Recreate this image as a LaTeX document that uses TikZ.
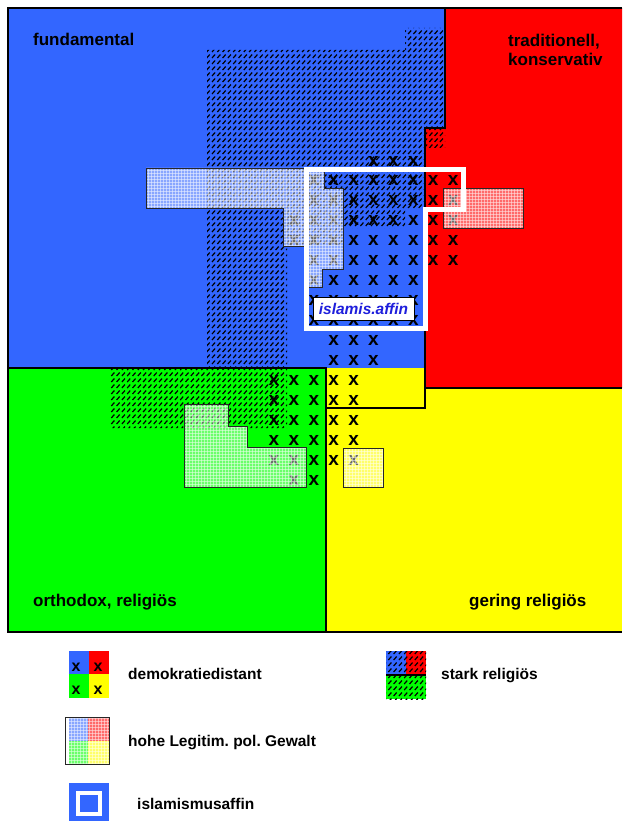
\documentclass[tikz,border=0pt]{standalone}
\usepackage{fontspec}
\setmainfont{Liberation Sans}
\usetikzlibrary{patterns}
\frenchspacing
\definecolor{cblue}{RGB}{51,102,255}
\definecolor{cred}{RGB}{255,0,0}
\definecolor{cgreen}{RGB}{0,255,0}
\definecolor{cyellow}{RGB}{255,255,0}
\definecolor{labelblue}{RGB}{30,30,220}

\pgfdeclarepatternformonly{fgrid}{\pgfpoint{0pt}{0pt}}{\pgfpoint{3.4pt}{3.4pt}}{\pgfpoint{3.4pt}{3.4pt}}{%
  \pgfsetlinewidth{0.7pt}%
  \pgfpathmoveto{\pgfpoint{0pt}{0.35pt}}\pgfpathlineto{\pgfpoint{3.4pt}{0.35pt}}%
  \pgfpathmoveto{\pgfpoint{0.35pt}{0pt}}\pgfpathlineto{\pgfpoint{0.35pt}{3.4pt}}%
  \pgfusepathqstroke}

\newcommand\ovlshape[1]{%
  \fill[white,fill opacity=0.42] #1;
  \fill[pattern=fgrid,pattern color=white,fill opacity=0.75] #1;}

% dashed diagonal hatch: #1 clip path, #2 first x, #3 bottom y, #4 number of lines
\newcommand\hatchin[4]{%
  \begin{scope}
    \clip #1;
    \foreach \k in {0,...,#4}
      \draw[hatchline] ({#2+5.3*\k},#3) -- ++(371,-420);
  \end{scope}}

\tikzset{
  frameline/.style={line width=2.2pt,black},
  hatchline/.style={black,line width=1.2pt,dash pattern=on 4.6pt off 3.406pt},
  ovlborder/.style={draw=black!85,line width=0.9pt},
  xmark/.style={font=\bfseries\fontsize{19}{19}\selectfont,inner sep=0pt},
  legx/.style={font=\bfseries\fontsize{16}{16}\selectfont,inner sep=0pt},
  biglabel/.style={font=\bfseries\fontsize{17}{19}\selectfont,inner sep=0pt,anchor=base west,align=left},
  leglabel/.style={font=\bfseries\fontsize{15.5}{17}\selectfont,inner sep=0pt,anchor=base west},
  whiteframe/.style={draw=white,line width=5pt},
}

\begin{document}
\begin{tikzpicture}[x=1pt,y=-1pt]
\useasboundingbox (0,0) rectangle (622,821);
\fill[white] (0,0) rectangle (622,821);

% regions
\fill[cblue] (8,8) rectangle (445,368);
\fill[cyellow] (326,368) rectangle (622,632);
\fill[cgreen] (8,368) rectangle (326,632);
\fill[cred] (445,8) -- (622,8) -- (622,388) -- (425,388) -- (425,128) -- (445,128) -- cycle;

% stark religioes (hatch)
\hatchin{(207,50) -- (405,50) -- (405,28) -- (445,28) -- (445,148) -- (425,148)
  -- (425,208) -- (405,208) -- (405,228) -- (343,228) -- (343,246) -- (287,246)
  -- (287,428) -- (110,428) -- (110,368) -- (207,368) -- cycle}{-265}{430}{135}

% demokratiedistant marks
\foreach \j/\a/\b in {0/5/7,1/2/9,2/2/9,3/1/9,4/1/9,5/2/9,6/2/7,7/2/7,8/2/7,9/3/5,10/3/5,11/0/4,12/0/4,13/0/4,14/0/4,15/0/4,16/1/2}
  \foreach \i in {\a,...,\b}
    \node[xmark] (x\j-\i) at ({274+19.9*\i},{161+19.95*\j}) {x};

% hohe Legitim. overlays
\ovlshape{(146,168) -- (324,168) -- (324,188) -- (343,188) -- (343,269) -- (322,269) -- (322,287) -- (306,287) -- (306,246) -- (283,246) -- (283,208) -- (146,208) -- cycle}
\draw[ovlborder] (146,168) -- (324,168) -- (324,188) -- (343,188) -- (343,269) -- (322,269) -- (322,287) -- (306,287) -- (306,246) -- (283,246) -- (283,208) -- (146,208) -- cycle;
\ovlshape{(443,188) rectangle (523,228)}
\draw[ovlborder] (443,188) rectangle (523,228);
\ovlshape{(184,404) -- (228,404) -- (228,426) -- (247,426) -- (247,447) -- (306,447) -- (306,487) -- (184,487) -- cycle}
\draw[ovlborder] (184,404) -- (228,404) -- (228,426) -- (247,426) -- (247,447) -- (306,447) -- (306,487) -- (184,487) -- cycle;
\ovlshape{(343,448) rectangle (383,487)}
\draw[ovlborder] (343,448) rectangle (383,487);

% borders
\draw[frameline] (622,8) -- (8,8) -- (8,632) -- (622,632);
\draw[frameline] (445,8) -- (445,128) -- (425,128) -- (425,408) -- (326,408);
\draw[frameline] (425,388) -- (622,388);
\draw[frameline] (8,368) -- (326,368) -- (326,632);

% islamismusaffin frame
\draw[whiteframe] (306,169.5) -- (463,169.5) -- (463,209.5) -- (425.5,209.5) -- (425.5,328.5) -- (306,328.5) -- cycle;
\node[draw=black,line width=0.9pt,fill=white,minimum width=101pt,minimum height=23pt,inner sep=0pt,
  text=labelblue,font=\bfseries\itshape\fontsize{15.5}{17}\selectfont] (ialabel) at (363.5,308.5) {islamis.affin};

% region labels
\node[biglabel] (lfund) at (33,46) {fundamental};
\node[biglabel] (ltrad1) at (508,47) {traditionell,};
\node[biglabel] (ltrad2) at (508,66) {konservativ};
\node[biglabel] (lorth) at (33,606) {orthodox, religiös};
\node[biglabel] (lger) at (469,606) {gering religiös};

% legend: demokratiedistant
\fill[cblue] (69,651) rectangle (89,674);
\fill[cred] (89,651) rectangle (109,674);
\fill[cgreen] (69,674) rectangle (89,698);
\fill[cyellow] (89,674) rectangle (109,698);
\node[legx] (lx1) at (76,667) {x};
\node[legx] (lx2) at (98,667) {x};
\node[legx] (lx3) at (76,690) {x};
\node[legx] (lx4) at (98,690) {x};
\node[leglabel] (ldemo) at (128,679) {demokratiedistant};

% legend: stark religioes
\fill[cblue] (386,651) rectangle (406,675);
\fill[cred] (406,651) rectangle (426,675);
\fill[cgreen] (386,675) rectangle (426,699);
\hatchin{(386,651) rectangle (426,699)}{330}{702}{20}
\draw[black,line width=2pt] (386,675) -- (426,675);
\node[leglabel] (lstark) at (441,679) {stark religiös};

% legend: hohe Legitim.
\fill[white] (65,717) rectangle (109,764);
\fill[cblue] (69,717) rectangle (88,741);
\fill[cred] (88,717) rectangle (109,741);
\fill[cgreen] (69,741) rectangle (88,764);
\fill[cyellow] (88,741) rectangle (109,764);
\ovlshape{(69,717) rectangle (109,764)}
\draw[ovlborder] (65,717) rectangle (109,764);
\node[leglabel] (lhohe) at (128,746) {hohe Legitim. pol. Gewalt};

% legend: islamismusaffin
\fill[cblue] (69,783) rectangle (109,821);
\draw[white,line width=3.5pt] (78,793) rectangle (100,814);
\node[leglabel] (lisl) at (137,809) {islamismusaffin};
\end{tikzpicture}
\end{document}
